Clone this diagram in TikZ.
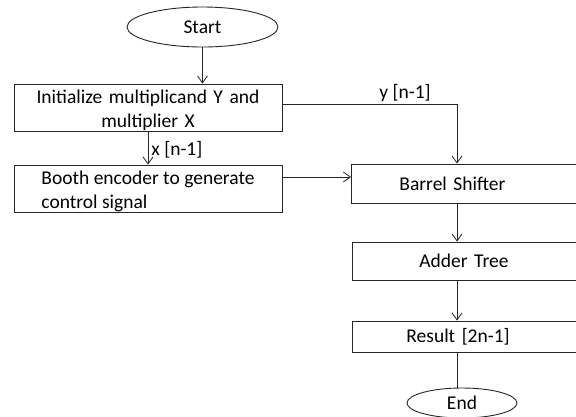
\documentclass[tikz,border=0pt]{standalone}
\usepackage{fontspec}
\setmainfont{Carlito}
\usetikzlibrary{arrows.meta,shapes.geometric}
\begin{document}
\begin{tikzpicture}[x=1pt,y=-1pt,
  every node/.style={font=\fontsize{19.5}{23.5}\selectfont},
  line/.style={draw=black!85, line width=0.9pt},
  arr/.style={line, -{Straight Barb[length=7pt,width=10pt,line width=0.8pt]}},
  oval/.style={line, ellipse, inner sep=0pt},
  box/.style={line, rectangle, inner ysep=0pt},
]
\clip (0,0) rectangle (576,416);
\fill[white] (0,0) rectangle (576,416);

% left column (the strut lowers the two text lines a little)
\node[oval, minimum width=151, minimum height=40] (start) at (202.5,27) {Start};
\node[box, minimum height=47, inner xsep=4, text width=260, align=center] (init) at (148,107.5)
  {\rule{0pt}{19.5pt}Initialize multiplicand Y and\\multiplier X};
\node[box, minimum width=268, minimum height=47, align=left] (booth) at (148,188.5)
  {\rule{0pt}{19.5pt}Booth encoder to generate\\control signal};

% right column (boxes run past the right edge)
\node[box, anchor=west, minimum height=39, inner xsep=48, text width=150, align=left] (barrel) at (351,183.5) {Barrel Shifter};
\node[box, anchor=west, minimum height=38, inner xsep=67, text width=130, align=left] (adder) at (352,261) {Adder Tree};
\node[box, anchor=west, minimum height=31, inner xsep=54, text width=140, align=left] (result) at (352,336.5) {Result [2n-1]};
\node[oval, minimum width=110, minimum height=30] (end) at (462,403) {End};

% helper rows and axis
\coordinate (axis) at (457,0);
\coordinate (yrow) at (0,104);
\coordinate (crow) at (0,177);

% connectors
\draw[arr] (start) -- (start |- init.north);
\draw[arr] (init.east |- yrow) -| (axis |- barrel.north);
\node (ylab) at (405,93) {y [n-1]};
\draw[arr] (init.south) -- node[right, inner sep=3pt, yshift=-2pt] (xlab) {x [n-1]} (booth.north);
\draw[arr] (booth.east |- crow) -- (barrel.west |- crow);
\draw[arr] (axis |- barrel.south) -- (axis |- adder.north);
\draw[arr] (axis |- adder.south) -- (axis |- result.north);
\draw[line] (axis |- result.south) -- (axis |- end.north);
\end{tikzpicture}
\end{document}
